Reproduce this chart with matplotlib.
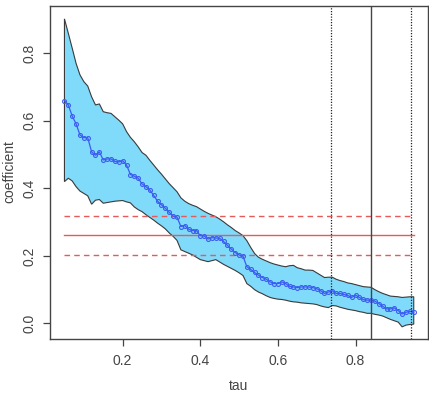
import numpy as np
import matplotlib
matplotlib.use('Agg')
import matplotlib.pyplot as plt

# quantile process estimates, tau = 0.05 ... 0.95
tau = np.round(np.arange(0.05, 0.951, 0.01), 2)

coef = [0.660, 0.647, 0.614, 0.591, 0.558, 0.550, 0.550, 0.508, 0.498, 0.508,
        0.484, 0.487, 0.487, 0.480, 0.478, 0.482, 0.469, 0.441, 0.436, 0.430,
        0.413, 0.405, 0.395, 0.379, 0.362, 0.351, 0.341, 0.329, 0.318, 0.315,
        0.287, 0.290, 0.279, 0.275, 0.275, 0.260, 0.259, 0.250, 0.254, 0.253,
        0.252, 0.243, 0.231, 0.220, 0.210, 0.203, 0.199, 0.168, 0.160, 0.151,
        0.143, 0.136, 0.131, 0.123, 0.118, 0.118, 0.123, 0.118, 0.110, 0.108,
        0.106, 0.108, 0.108, 0.108, 0.106, 0.103, 0.097, 0.089, 0.093, 0.097,
        0.089, 0.089, 0.086, 0.083, 0.077, 0.084, 0.077, 0.071, 0.069, 0.069,
        0.066, 0.059, 0.051, 0.043, 0.043, 0.046, 0.038, 0.028, 0.033, 0.036,
        0.033]

upper = [0.902, 0.859, 0.815, 0.770, 0.736, 0.716, 0.703, 0.671, 0.647, 0.650,
         0.627, 0.624, 0.622, 0.612, 0.602, 0.591, 0.568, 0.551, 0.538, 0.523,
         0.506, 0.498, 0.483, 0.469, 0.455, 0.442, 0.428, 0.414, 0.402, 0.390,
         0.372, 0.362, 0.355, 0.350, 0.346, 0.339, 0.332, 0.326, 0.321, 0.316,
         0.309, 0.301, 0.292, 0.284, 0.275, 0.268, 0.260, 0.245, 0.225, 0.207,
         0.196, 0.190, 0.185, 0.180, 0.176, 0.173, 0.170, 0.168, 0.171, 0.172,
         0.165, 0.162, 0.158, 0.158, 0.157, 0.150, 0.143, 0.136, 0.137, 0.137,
         0.131, 0.127, 0.124, 0.120, 0.118, 0.115, 0.112, 0.109, 0.108, 0.107,
         0.100, 0.094, 0.089, 0.085, 0.081, 0.080, 0.079, 0.077, 0.078, 0.079,
         0.079]

lower = [0.420, 0.430, 0.422, 0.405, 0.392, 0.385, 0.378, 0.353, 0.365, 0.367,
         0.356, 0.358, 0.360, 0.362, 0.363, 0.364, 0.360, 0.357, 0.345, 0.337,
         0.331, 0.322, 0.314, 0.306, 0.297, 0.289, 0.280, 0.268, 0.258, 0.246,
         0.218, 0.213, 0.208, 0.203, 0.196, 0.189, 0.186, 0.183, 0.186, 0.189,
         0.182, 0.175, 0.169, 0.163, 0.157, 0.150, 0.142, 0.118, 0.110, 0.100,
         0.093, 0.088, 0.082, 0.077, 0.074, 0.072, 0.071, 0.069, 0.066, 0.064,
         0.063, 0.061, 0.060, 0.059, 0.058, 0.056, 0.052, 0.049, 0.047, 0.053,
         0.052, 0.048, 0.045, 0.042, 0.040, 0.038, 0.035, 0.033, 0.030, 0.030,
         0.027, 0.025, 0.022, 0.017, 0.012, 0.008, 0.004, -0.010, -0.005, -0.003,
         -0.002]

ols = 0.262
ols_ci = [0.202, 0.319]
vlines_dotted = [0.737, 0.942]
vline_solid = 0.839

plt.rcParams['font.family'] = ['Liberation Sans', 'DejaVu Sans']

fig = plt.figure(figsize=(4.29, 3.94), dpi=100)
ax = fig.add_axes([0.1172, 0.1396, 0.8798, 0.8452])

# confidence band
poly_x = np.concatenate([tau, tau[::-1]])
poly_y = np.concatenate([upper, lower[::-1]])
ax.fill(poly_x, poly_y, facecolor='#80dafa', edgecolor='#3a3a3a', lw=0.8, zorder=1)

# OLS estimate and its interval
ax.plot([tau[0], tau[-1]], [ols, ols], color='#e65a5a', lw=1.0, zorder=2)
for v in ols_ci:
    ax.plot([tau[0], tau[-1]], [v, v], color='#e65a5a', lw=1.0,
            dashes=(4, 3), zorder=2)

# quantile coefficients
ax.plot(tau, coef, color='#3a5cf0', lw=0.9, marker='o', ms=2.8,
        mfc='none', mew=0.8, zorder=3)

for v in vlines_dotted:
    ax.axvline(v, color='#222222', lw=0.9, ls=(0, (1, 1.2)), zorder=4)
ax.axvline(vline_solid, color='#444444', lw=1.0, zorder=4)

ax.set_xlim(0.0135, 0.986)
ax.set_ylim(-0.046, 0.940)
ax.set_xticks([0.2, 0.4, 0.6, 0.8])
ax.set_yticks([0.0, 0.2, 0.4, 0.6, 0.8])
ax.set_xticklabels(['0.2', '0.4', '0.6', '0.8'])
ax.set_yticklabels(['0.0', '0.2', '0.4', '0.6', '0.8'], rotation=90, va='center')
ax.tick_params(direction='out', length=5, width=0.9, colors='#444444',
               labelcolor='#444444', labelsize=10)
ax.tick_params(axis='x', pad=6)
ax.tick_params(axis='y', pad=5)
for s in ax.spines.values():
    s.set_color('#444444')
    s.set_linewidth(1.0)

fig.text(9 / 429, 1 - 172 / 394, 'coefficient', rotation=90, ha='center',
         va='center', fontsize=10, color='#444444')
fig.text(239 / 429, 1 - 379 / 394, 'tau', ha='center', va='top',
         fontsize=10, color='#444444')

fig.savefig('out.png', dpi=100)
